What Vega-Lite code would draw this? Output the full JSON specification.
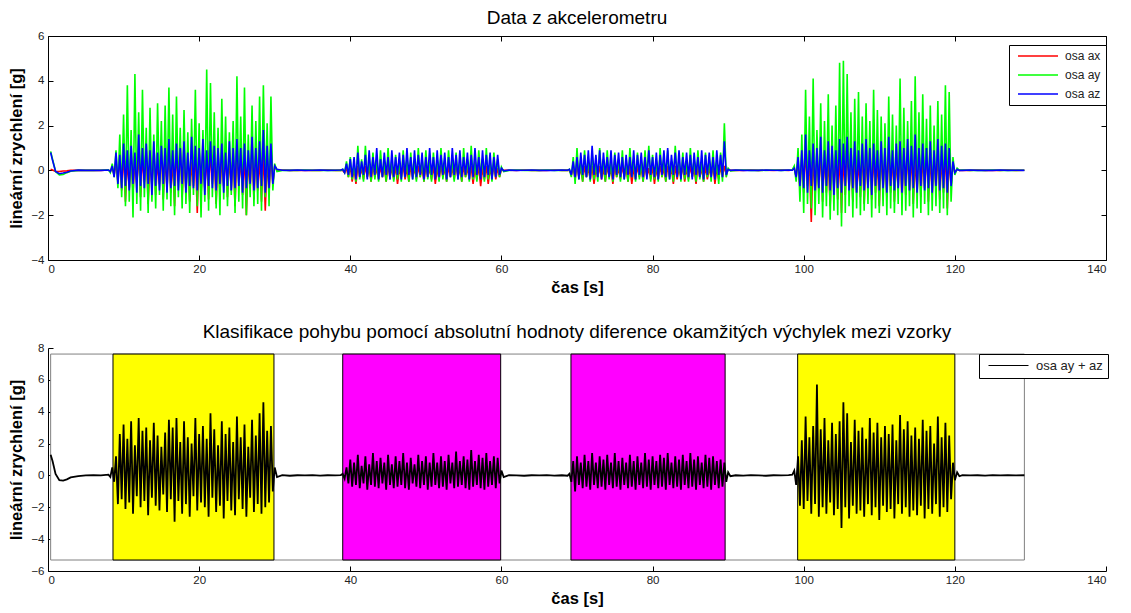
{
"$schema": "https://vega.github.io/schema/vega-lite/v6.json",
"background": "white",
"padding": {"left": 8, "top": 9, "right": 5, "bottom": 2},
"config": {
  "font": "Liberation Sans",
  "view": {"stroke": null},
  "axis": {"grid": false, "labelOverlap": false, "domainColor": "black", "domainWidth": 1, "tickColor": "black", "tickSize": -5, "labelFont": "Liberation Sans", "labelFontSize": 11.5, "labelColor": "#222", "titleFont": "Liberation Sans", "titleFontSize": 16.5, "titleFontWeight": "bold", "titleColor": "black"},
  "axisX": {"labelPadding": 8, "titlePadding": 5},
  "axisY": {"labelPadding": 9, "titlePadding": 6},
  "title": {"font": "Liberation Sans", "fontSize": 19, "fontWeight": "normal", "color": "black", "anchor": "middle"},
  "legend": {"labelFont": "Liberation Sans", "labelFontSize": 12, "labelColor": "#222", "strokeColor": "black", "fillColor": "white", "padding": 5, "symbolType": "M-4,0H4", "symbolSize": 100, "symbolStrokeWidth": 1.5, "symbolOffset": 18, "labelOffset": 21, "rowPadding": 7, "title": null},
  "concat": {"spacing": 27}
},
"datasets": {
"cls": [
 {"od": 8.6, "do": 29.9, "trida": "A"},
 {"od": 39.0, "do": 59.9, "trida": "B"},
 {"od": 69.2, "do": 89.6, "trida": "B"},
 {"od": 99.2, "do": 120.0, "trida": "A"}
],
"sig": [
{"t":0.35,"x":0.05,"y":0.85,"z":0.8,"s":1.3},
{"t":0.6,"x":0.02,"y":0.5,"z":0.45,"s":0.9},
{"t":1.0,"x":-0.05,"y":-0.05,"z":-0.05,"s":0.1},
{"t":1.5,"x":-0.05,"y":-0.2,"z":-0.15,"s":-0.3},
{"t":2.0,"x":-0.03,"y":-0.18,"z":-0.12,"s":-0.32},
{"t":2.5,"x":-0.02,"y":-0.1,"z":-0.08,"s":-0.25},
{"t":3.0,"x":0,"y":-0.04,"z":-0.03,"s":-0.12},
{"t":4.0,"x":0.01,"y":0,"z":0.01,"s":-0.04},
{"t":5.0,"x":0,"y":0.01,"z":0,"s":0},
{"t":6.0,"x":0.01,"y":0,"z":0.01,"s":0.01},
{"t":7.0,"x":0,"y":0.01,"z":0,"s":0},
{"t":8.0,"x":0.02,"y":0.03,"z":0.02,"s":0.05},
{"t":8.25,"x":-0.05,"y":-0.1,"z":-0.05,"s":-0.1},
{"t":8.5,"x":0.1,"y":0.3,"z":0.2,"s":0.5},
{"t":8.75,"x":-0.2,"y":-0.3,"z":-0.3,"s":-0.4},
{"t":9.0,"x":0.3,"y":0.9,"z":0.8,"s":1.2},
{"t":9.25,"x":-0.5,"y":-0.8,"z":-0.6,"s":-1.8},
{"t":9.5,"x":0.6,"y":1.6,"z":0.7,"s":2.6},
{"t":9.75,"x":-0.9,"y":-1.2,"z":-0.8,"s":-1.5},
{"t":10.0,"x":0.9,"y":2.5,"z":1.2,"s":3.2},
{"t":10.25,"x":-1.4,"y":-1.6,"z":-0.7,"s":-2.1},
{"t":10.5,"x":0.5,"y":3.8,"z":0.9,"s":2.3},
{"t":10.75,"x":-0.8,"y":-1.4,"z":-0.9,"s":-1.7},
{"t":11.0,"x":0.7,"y":1.8,"z":1.1,"s":3.4},
{"t":11.25,"x":-1.0,"y":-2.1,"z":-0.6,"s":-2.4},
{"t":11.5,"x":0.4,"y":4.3,"z":0.8,"s":1.9},
{"t":11.75,"x":-0.6,"y":-1.5,"z":-1.0,"s":-1.3},
{"t":12.0,"x":0.8,"y":2.6,"z":1.6,"s":3.6},
{"t":12.25,"x":-1.2,"y":-1.8,"z":-0.7,"s":-2.0},
{"t":12.5,"x":0.6,"y":3.6,"z":1.0,"s":2.8},
{"t":12.75,"x":-0.5,"y":-1.2,"z":-0.8,"s":-1.6},
{"t":13.0,"x":0.9,"y":1.9,"z":1.2,"s":3.0},
{"t":13.25,"x":-1.5,"y":-1.9,"z":-0.6,"s":-2.5},
{"t":13.5,"x":0.5,"y":2.8,"z":0.9,"s":2.2},
{"t":13.75,"x":-0.7,"y":-1.4,"z":-1.1,"s":-1.4},
{"t":14.0,"x":0.7,"y":1.6,"z":1.3,"s":3.3},
{"t":14.25,"x":-1.1,"y":-1.7,"z":-0.7,"s":-1.9},
{"t":14.5,"x":0.4,"y":3.0,"z":0.8,"s":2.5},
{"t":14.75,"x":-0.6,"y":-1.1,"z":-0.9,"s":-2.2},
{"t":15.0,"x":1.0,"y":2.2,"z":1.1,"s":1.8},
{"t":15.25,"x":-1.3,"y":-1.8,"z":-0.6,"s":-1.2},
{"t":15.5,"x":0.6,"y":2.9,"z":1.0,"s":2.7},
{"t":15.75,"x":-0.8,"y":-1.3,"z":-1.0,"s":-2.3},
{"t":16.0,"x":0.8,"y":3.7,"z":1.4,"s":3.5},
{"t":16.25,"x":-1.0,"y":-1.6,"z":-0.8,"s":-1.5},
{"t":16.5,"x":0.5,"y":2.5,"z":0.9,"s":3.0},
{"t":16.75,"x":-1.6,"y":-2.0,"z":-0.7,"s":-2.9},
{"t":17.0,"x":0.9,"y":3.3,"z":1.2,"s":3.6},
{"t":17.25,"x":-0.5,"y":-1.2,"z":-0.9,"s":-1.6},
{"t":17.5,"x":1.1,"y":1.9,"z":1.0,"s":2.1},
{"t":17.75,"x":-1.2,"y":-1.7,"z":-0.6,"s":-2.4},
{"t":18.0,"x":0.6,"y":2.7,"z":1.3,"s":3.4},
{"t":18.25,"x":-0.9,"y":-1.5,"z":-1.0,"s":-1.8},
{"t":18.5,"x":0.7,"y":1.7,"z":0.8,"s":2.4},
{"t":18.75,"x":-1.4,"y":-1.9,"z":-0.7,"s":-2.6},
{"t":19.0,"x":0.4,"y":2.3,"z":1.5,"s":2.0},
{"t":19.25,"x":-0.7,"y":-1.1,"z":-0.8,"s":-1.3},
{"t":19.5,"x":0.8,"y":3.6,"z":1.1,"s":3.6},
{"t":19.75,"x":-1.9,"y":-1.6,"z":-0.9,"s":-2.2},
{"t":20.0,"x":0.9,"y":2.1,"z":1.0,"s":2.6},
{"t":20.25,"x":-1.1,"y":-2.1,"z":-0.6,"s":-1.7},
{"t":20.5,"x":0.5,"y":1.8,"z":1.4,"s":3.1},
{"t":20.75,"x":-0.8,"y":-1.4,"z":-1.1,"s":-2.0},
{"t":21.0,"x":0.7,"y":4.5,"z":0.9,"s":2.3},
{"t":21.25,"x":-1.3,"y":-1.8,"z":-0.7,"s":-2.6},
{"t":21.5,"x":1.0,"y":3.9,"z":1.3,"s":3.9},
{"t":21.75,"x":-0.6,"y":-1.2,"z":-0.8,"s":-1.4},
{"t":22.0,"x":0.6,"y":2.6,"z":1.1,"s":2.9},
{"t":22.25,"x":-1.5,"y":-1.7,"z":-0.9,"s":-2.3},
{"t":22.5,"x":0.8,"y":1.9,"z":1.0,"s":1.9},
{"t":22.75,"x":-1.0,"y":-2.0,"z":-0.6,"s":-1.9},
{"t":23.0,"x":0.5,"y":3.2,"z":1.2,"s":3.4},
{"t":23.25,"x":-0.7,"y":-1.3,"z":-1.0,"s":-2.7},
{"t":23.5,"x":0.9,"y":2.4,"z":0.8,"s":2.6},
{"t":23.75,"x":-1.2,"y":-1.6,"z":-0.7,"s":-1.6},
{"t":24.0,"x":0.6,"y":1.7,"z":1.3,"s":3.0},
{"t":24.25,"x":-0.9,"y":-1.1,"z":-0.9,"s":-2.2},
{"t":24.5,"x":0.7,"y":2.2,"z":1.0,"s":2.1},
{"t":24.75,"x":-1.6,"y":-1.9,"z":-0.8,"s":-2.5},
{"t":25.0,"x":0.9,"y":4.2,"z":1.4,"s":3.7},
{"t":25.25,"x":-0.6,"y":-1.4,"z":-0.7,"s":-1.5},
{"t":25.5,"x":0.5,"y":2.4,"z":1.0,"s":2.4},
{"t":25.75,"x":-1.1,"y":-1.7,"z":-1.0,"s":-2.1},
{"t":26.0,"x":0.8,"y":3.7,"z":1.2,"s":3.2},
{"t":26.25,"x":-2.0,"y":-2.0,"z":-0.8,"s":-2.6},
{"t":26.5,"x":0.6,"y":1.6,"z":0.9,"s":1.8},
{"t":26.75,"x":-0.8,"y":-1.2,"z":-0.6,"s":-1.4},
{"t":27.0,"x":1.0,"y":2.9,"z":1.5,"s":3.5},
{"t":27.25,"x":-1.3,"y":-1.6,"z":-0.9,"s":-2.3},
{"t":27.5,"x":0.7,"y":2.2,"z":1.0,"s":2.5},
{"t":27.75,"x":-0.9,"y":-1.5,"z":-0.8,"s":-1.8},
{"t":28.0,"x":0.6,"y":3.3,"z":1.3,"s":3.9},
{"t":28.25,"x":-1.4,"y":-1.8,"z":-0.7,"s":-2.4},
{"t":28.5,"x":0.9,"y":3.8,"z":1.8,"s":4.6},
{"t":28.75,"x":-1.8,"y":-1.2,"z":-1.0,"s":-2.0},
{"t":29.0,"x":0.5,"y":2.1,"z":1.1,"s":2.8},
{"t":29.25,"x":-1.0,"y":-1.6,"z":-0.8,"s":-1.7},
{"t":29.5,"x":0.7,"y":3.3,"z":1.2,"s":3.1},
{"t":29.75,"x":-0.6,"y":-0.9,"z":-0.6,"s":-1.0},
{"t":30.0,"x":0.2,"y":0.3,"z":0.2,"s":0.5},
{"t":30.3,"x":0,"y":-0.05,"z":0.05,"s":-0.1},
{"t":31.0,"x":0.02,"y":0,"z":0.01,"s":0.02},
{"t":32.0,"x":0,"y":0.01,"z":0,"s":-0.02},
{"t":33.0,"x":0.01,"y":0,"z":0.02,"s":0.01},
{"t":34.0,"x":0,"y":0.02,"z":0,"s":0},
{"t":35.0,"x":0.01,"y":0,"z":0.01,"s":0.02},
{"t":36.0,"x":0,"y":0.01,"z":0.02,"s":-0.01},
{"t":37.0,"x":0.02,"y":0,"z":0,"s":0.01},
{"t":38.0,"x":0,"y":0.01,"z":0.01,"s":0},
{"t":38.75,"x":0.01,"y":0,"z":0.02,"s":0.02},
{"t":39.0,"x":0,"y":0.05,"z":0.05,"s":0.1},
{"t":39.25,"x":-0.1,"y":-0.1,"z":-0.1,"s":-0.2},
{"t":39.5,"x":0.1,"y":0.4,"z":0.3,"s":0.5},
{"t":39.75,"x":-0.3,"y":-0.3,"z":-0.2,"s":-0.5},
{"t":40.0,"x":0.2,"y":0.6,"z":0.5,"s":1.0},
{"t":40.25,"x":-0.5,"y":-0.4,"z":-0.3,"s":-0.7},
{"t":40.5,"x":0.1,"y":0.3,"z":0.6,"s":0.8},
{"t":40.75,"x":-0.6,"y":-0.5,"z":-0.4,"s":-0.6},
{"t":41.0,"x":0.2,"y":1.1,"z":0.8,"s":1.3},
{"t":41.25,"x":-0.3,"y":-0.4,"z":-0.3,"s":-0.8},
{"t":41.5,"x":0.1,"y":0.5,"z":0.4,"s":0.6},
{"t":41.75,"x":-0.4,"y":-0.5,"z":-0.2,"s":-0.5},
{"t":42.0,"x":0.2,"y":1.1,"z":0.7,"s":1.2},
{"t":42.25,"x":-0.3,"y":-0.3,"z":-0.4,"s":-0.9},
{"t":42.5,"x":0.1,"y":0.4,"z":0.9,"s":0.7},
{"t":42.75,"x":-0.5,"y":-0.5,"z":-0.3,"s":-0.6},
{"t":43.0,"x":0.2,"y":0.8,"z":0.6,"s":1.4},
{"t":43.25,"x":-0.3,"y":-0.4,"z":-0.2,"s":-0.7},
{"t":43.5,"x":0.1,"y":0.5,"z":1.0,"s":0.9},
{"t":43.75,"x":-0.4,"y":-0.5,"z":-0.4,"s":-0.8},
{"t":44.0,"x":0.2,"y":0.9,"z":0.5,"s":1.1},
{"t":44.25,"x":-0.3,"y":-0.3,"z":-0.3,"s":-0.5},
{"t":44.5,"x":0.1,"y":0.4,"z":0.8,"s":0.8},
{"t":44.75,"x":-0.5,"y":-0.5,"z":-0.2,"s":-0.9},
{"t":45.0,"x":0.2,"y":1.0,"z":0.6,"s":1.3},
{"t":45.25,"x":-0.3,"y":-0.4,"z":-0.4,"s":-0.6},
{"t":45.5,"x":0.1,"y":0.5,"z":0.9,"s":0.7},
{"t":45.75,"x":-0.4,"y":-0.5,"z":-0.3,"s":-0.8},
{"t":46.0,"x":0.2,"y":0.7,"z":0.6,"s":1.2},
{"t":46.25,"x":-0.6,"y":-0.4,"z":-0.2,"s":-0.7},
{"t":46.5,"x":0.1,"y":0.4,"z":0.8,"s":0.9},
{"t":46.75,"x":-0.3,"y":-0.5,"z":-0.4,"s":-0.6},
{"t":47.0,"x":0.2,"y":0.9,"z":0.7,"s":1.4},
{"t":47.25,"x":-0.4,"y":-0.3,"z":-0.3,"s":-0.8},
{"t":47.5,"x":0.1,"y":0.5,"z":1.0,"s":0.8},
{"t":47.75,"x":-0.5,"y":-0.5,"z":-0.2,"s":-0.9},
{"t":48.0,"x":0.2,"y":0.8,"z":0.6,"s":1.1},
{"t":48.25,"x":-0.3,"y":-0.4,"z":-0.4,"s":-0.5},
{"t":48.5,"x":0.1,"y":0.4,"z":0.9,"s":0.7},
{"t":48.75,"x":-0.4,"y":-0.5,"z":-0.3,"s":-0.7},
{"t":49.0,"x":0.2,"y":1.0,"z":0.7,"s":1.3},
{"t":49.25,"x":-0.3,"y":-0.3,"z":-0.2,"s":-0.8},
{"t":49.5,"x":0.1,"y":0.5,"z":0.8,"s":0.9},
{"t":49.75,"x":-0.5,"y":-0.5,"z":-0.4,"s":-0.6},
{"t":50.0,"x":0.2,"y":0.9,"z":0.6,"s":1.2},
{"t":50.25,"x":-0.3,"y":-0.4,"z":-0.3,"s":-0.9},
{"t":50.5,"x":0.1,"y":0.4,"z":1.0,"s":0.8},
{"t":50.75,"x":-0.4,"y":-0.5,"z":-0.2,"s":-0.7},
{"t":51.0,"x":0.2,"y":0.8,"z":0.6,"s":1.4},
{"t":51.25,"x":-0.6,"y":-0.3,"z":-0.4,"s":-0.6},
{"t":51.5,"x":0.1,"y":0.5,"z":0.9,"s":0.8},
{"t":51.75,"x":-0.4,"y":-0.5,"z":-0.3,"s":-0.8},
{"t":52.0,"x":0.2,"y":1.0,"z":0.7,"s":1.2},
{"t":52.25,"x":-0.3,"y":-0.4,"z":-0.2,"s":-0.7},
{"t":52.5,"x":0.1,"y":0.4,"z":0.8,"s":0.9},
{"t":52.75,"x":-0.5,"y":-0.5,"z":-0.4,"s":-0.9},
{"t":53.0,"x":0.2,"y":0.9,"z":0.6,"s":1.3},
{"t":53.25,"x":-0.3,"y":-0.3,"z":-0.3,"s":-0.5},
{"t":53.5,"x":0.1,"y":0.5,"z":1.0,"s":0.8},
{"t":53.75,"x":-0.4,"y":-0.5,"z":-0.2,"s":-0.8},
{"t":54.0,"x":0.2,"y":0.8,"z":0.7,"s":1.5},
{"t":54.25,"x":-0.3,"y":-0.4,"z":-0.4,"s":-0.7},
{"t":54.5,"x":0.1,"y":0.4,"z":0.9,"s":0.9},
{"t":54.75,"x":-0.5,"y":-0.5,"z":-0.3,"s":-0.6},
{"t":55.0,"x":0.2,"y":1.0,"z":0.6,"s":1.2},
{"t":55.25,"x":-0.3,"y":-0.3,"z":-0.2,"s":-0.8},
{"t":55.5,"x":0.1,"y":0.5,"z":0.8,"s":1.0},
{"t":55.75,"x":-0.4,"y":-0.5,"z":-0.4,"s":-0.9},
{"t":56.0,"x":0.2,"y":1.1,"z":0.7,"s":1.6},
{"t":56.25,"x":-0.6,"y":-0.4,"z":-0.3,"s":-0.7},
{"t":56.5,"x":0.1,"y":0.4,"z":1.0,"s":0.9},
{"t":56.75,"x":-0.4,"y":-0.5,"z":-0.2,"s":-0.6},
{"t":57.0,"x":0.2,"y":0.9,"z":0.6,"s":1.3},
{"t":57.25,"x":-0.7,"y":-0.3,"z":-0.4,"s":-0.8},
{"t":57.5,"x":0.1,"y":0.5,"z":0.9,"s":1.1},
{"t":57.75,"x":-0.4,"y":-0.5,"z":-0.3,"s":-0.9},
{"t":58.0,"x":0.2,"y":1.0,"z":0.7,"s":1.4},
{"t":58.25,"x":-0.6,"y":-0.4,"z":-0.2,"s":-0.7},
{"t":58.5,"x":0.1,"y":0.4,"z":0.8,"s":0.9},
{"t":58.75,"x":-0.3,"y":-0.5,"z":-0.4,"s":-0.6},
{"t":59.0,"x":0.2,"y":0.8,"z":0.6,"s":1.2},
{"t":59.25,"x":-0.4,"y":-0.3,"z":-0.3,"s":-0.8},
{"t":59.5,"x":0.1,"y":0.5,"z":0.7,"s":1.1},
{"t":59.75,"x":-0.3,"y":-0.3,"z":-0.2,"s":-0.5},
{"t":60.0,"x":0.05,"y":0.15,"z":0.1,"s":0.3},
{"t":60.3,"x":0,"y":-0.05,"z":-0.02,"s":-0.1},
{"t":61.0,"x":0.01,"y":0,"z":0.01,"s":0.02},
{"t":62.0,"x":0,"y":0.02,"z":0,"s":0},
{"t":63.0,"x":0.02,"y":0,"z":0.01,"s":-0.02},
{"t":64.0,"x":0,"y":0.01,"z":0.02,"s":0.01},
{"t":65.0,"x":0.01,"y":0,"z":0,"s":0},
{"t":66.0,"x":0,"y":0.02,"z":0.01,"s":0.02},
{"t":67.0,"x":0.02,"y":0,"z":0,"s":-0.01},
{"t":68.0,"x":0,"y":0.01,"z":0.02,"s":0.01},
{"t":68.75,"x":0.01,"y":0,"z":0.01,"s":-0.02},
{"t":69.0,"x":0,"y":0.05,"z":0.05,"s":0.1},
{"t":69.25,"x":-0.2,"y":-0.3,"z":-0.2,"s":-0.4},
{"t":69.5,"x":0.1,"y":0.6,"z":0.4,"s":0.9},
{"t":69.75,"x":-0.4,"y":-0.6,"z":-0.3,"s":-1.0},
{"t":70.0,"x":0.2,"y":1.0,"z":0.6,"s":1.2},
{"t":70.25,"x":-0.3,"y":-0.4,"z":-0.4,"s":-0.6},
{"t":70.5,"x":0.1,"y":0.4,"z":0.8,"s":0.8},
{"t":70.75,"x":-0.5,"y":-0.5,"z":-0.2,"s":-0.8},
{"t":71.0,"x":0.2,"y":0.9,"z":0.7,"s":1.3},
{"t":71.25,"x":-0.3,"y":-0.3,"z":-0.3,"s":-0.7},
{"t":71.5,"x":0.1,"y":0.5,"z":0.9,"s":0.9},
{"t":71.75,"x":-0.4,"y":-0.5,"z":-0.4,"s":-0.9},
{"t":72.0,"x":0.2,"y":0.8,"z":1.1,"s":1.4},
{"t":72.25,"x":-0.6,"y":-0.4,"z":-0.2,"s":-0.6},
{"t":72.5,"x":0.1,"y":0.4,"z":0.7,"s":0.8},
{"t":72.75,"x":-0.3,"y":-0.5,"z":-0.3,"s":-0.8},
{"t":73.0,"x":0.2,"y":1.0,"z":0.9,"s":1.2},
{"t":73.25,"x":-0.4,"y":-0.3,"z":-0.4,"s":-0.7},
{"t":73.5,"x":0.1,"y":0.5,"z":0.8,"s":1.0},
{"t":73.75,"x":-0.5,"y":-0.5,"z":-0.2,"s":-0.9},
{"t":74.0,"x":0.2,"y":0.9,"z":0.6,"s":1.3},
{"t":74.25,"x":-0.3,"y":-0.4,"z":-0.3,"s":-0.6},
{"t":74.5,"x":0.1,"y":0.4,"z":0.9,"s":0.8},
{"t":74.75,"x":-0.6,"y":-0.5,"z":-0.4,"s":-0.8},
{"t":75.0,"x":0.2,"y":0.8,"z":0.7,"s":1.4},
{"t":75.25,"x":-0.3,"y":-0.3,"z":-0.2,"s":-0.7},
{"t":75.5,"x":0.1,"y":0.5,"z":0.8,"s":0.9},
{"t":75.75,"x":-0.4,"y":-0.5,"z":-0.3,"s":-0.9},
{"t":76.0,"x":0.2,"y":0.9,"z":0.6,"s":1.1},
{"t":76.25,"x":-0.3,"y":-0.4,"z":-0.4,"s":-0.6},
{"t":76.5,"x":0.1,"y":0.4,"z":0.7,"s":0.8},
{"t":76.75,"x":-0.5,"y":-0.5,"z":-0.2,"s":-0.8},
{"t":77.0,"x":0.2,"y":1.0,"z":0.6,"s":1.3},
{"t":77.25,"x":-0.6,"y":-0.3,"z":-0.3,"s":-0.7},
{"t":77.5,"x":0.1,"y":0.5,"z":0.9,"s":0.9},
{"t":77.75,"x":-0.4,"y":-0.5,"z":-0.4,"s":-0.9},
{"t":78.0,"x":0.2,"y":0.8,"z":0.7,"s":1.2},
{"t":78.25,"x":-0.3,"y":-0.4,"z":-0.2,"s":-0.6},
{"t":78.5,"x":0.1,"y":0.4,"z":0.8,"s":0.8},
{"t":78.75,"x":-0.5,"y":-0.5,"z":-0.3,"s":-0.8},
{"t":79.0,"x":0.2,"y":0.9,"z":0.6,"s":1.4},
{"t":79.25,"x":-0.3,"y":-0.3,"z":-0.4,"s":-0.7},
{"t":79.5,"x":0.1,"y":1.1,"z":0.9,"s":1.0},
{"t":79.75,"x":-0.4,"y":-0.5,"z":-0.2,"s":-0.9},
{"t":80.0,"x":0.2,"y":0.7,"z":0.6,"s":1.2},
{"t":80.25,"x":-0.6,"y":-0.4,"z":-0.3,"s":-0.6},
{"t":80.5,"x":0.1,"y":0.4,"z":0.8,"s":0.9},
{"t":80.75,"x":-0.4,"y":-0.5,"z":-0.4,"s":-0.8},
{"t":81.0,"x":0.2,"y":1.0,"z":0.7,"s":1.3},
{"t":81.25,"x":-0.3,"y":-0.3,"z":-0.2,"s":-0.7},
{"t":81.5,"x":0.1,"y":0.5,"z":0.9,"s":1.1},
{"t":81.75,"x":-0.5,"y":-0.5,"z":-0.3,"s":-0.9},
{"t":82.0,"x":0.2,"y":0.9,"z":1.0,"s":1.4},
{"t":82.25,"x":-0.3,"y":-0.4,"z":-0.4,"s":-0.6},
{"t":82.5,"x":0.1,"y":0.4,"z":0.7,"s":0.8},
{"t":82.75,"x":-0.6,"y":-0.5,"z":-0.2,"s":-0.8},
{"t":83.0,"x":0.2,"y":1.1,"z":0.8,"s":1.2},
{"t":83.25,"x":-0.4,"y":-0.3,"z":-0.3,"s":-0.7},
{"t":83.5,"x":0.1,"y":0.5,"z":0.9,"s":1.0},
{"t":83.75,"x":-0.3,"y":-0.5,"z":-0.4,"s":-0.9},
{"t":84.0,"x":0.2,"y":0.8,"z":0.6,"s":1.3},
{"t":84.25,"x":-0.5,"y":-0.4,"z":-0.2,"s":-0.6},
{"t":84.5,"x":0.1,"y":0.4,"z":0.8,"s":0.9},
{"t":84.75,"x":-0.4,"y":-0.5,"z":-0.3,"s":-0.8},
{"t":85.0,"x":0.2,"y":1.0,"z":0.7,"s":1.4},
{"t":85.25,"x":-0.3,"y":-0.3,"z":-0.4,"s":-0.7},
{"t":85.5,"x":0.1,"y":0.5,"z":0.8,"s":1.0},
{"t":85.75,"x":-0.6,"y":-0.5,"z":-0.2,"s":-0.9},
{"t":86.0,"x":0.2,"y":0.9,"z":0.6,"s":1.2},
{"t":86.25,"x":-0.3,"y":-0.4,"z":-0.3,"s":-0.6},
{"t":86.5,"x":0.1,"y":0.4,"z":0.9,"s":0.8},
{"t":86.75,"x":-0.5,"y":-0.5,"z":-0.4,"s":-0.8},
{"t":87.0,"x":0.2,"y":0.8,"z":0.7,"s":1.3},
{"t":87.25,"x":-0.4,"y":-0.3,"z":-0.2,"s":-0.7},
{"t":87.5,"x":0.1,"y":0.5,"z":0.8,"s":1.1},
{"t":87.75,"x":-0.3,"y":-0.5,"z":-0.3,"s":-0.9},
{"t":88.0,"x":0.2,"y":0.9,"z":0.6,"s":1.2},
{"t":88.25,"x":-0.6,"y":-0.4,"z":-0.4,"s":-0.6},
{"t":88.5,"x":0.1,"y":0.4,"z":0.9,"s":0.9},
{"t":88.75,"x":-0.4,"y":-0.6,"z":-0.2,"s":-0.8},
{"t":89.0,"x":0.2,"y":0.8,"z":0.7,"s":1.0},
{"t":89.25,"x":-0.3,"y":-0.5,"z":-0.3,"s":-0.7},
{"t":89.5,"x":0.2,"y":2.1,"z":1.3,"s":0.8},
{"t":89.75,"x":-0.2,"y":-0.3,"z":-0.2,"s":-0.4},
{"t":90.0,"x":0.05,"y":0.1,"z":0.05,"s":0.2},
{"t":90.3,"x":0,"y":-0.02,"z":0,"s":-0.05},
{"t":91.0,"x":0.01,"y":0,"z":0.02,"s":0.01},
{"t":92.0,"x":0,"y":0.02,"z":0,"s":-0.01},
{"t":93.0,"x":0.02,"y":0,"z":0.01,"s":0.02},
{"t":94.0,"x":0,"y":0.01,"z":0,"s":0},
{"t":95.0,"x":0.01,"y":0,"z":0.02,"s":-0.02},
{"t":96.0,"x":0,"y":0.02,"z":0.01,"s":0.01},
{"t":97.0,"x":0.02,"y":0,"z":0,"s":0},
{"t":98.0,"x":0,"y":0.01,"z":0.02,"s":0.02},
{"t":98.5,"x":0.02,"y":0.03,"z":0.01,"s":0.05},
{"t":98.75,"x":0.1,"y":0.2,"z":0.1,"s":0.3},
{"t":99.0,"x":-0.3,"y":-0.5,"z":-0.3,"s":-0.6},
{"t":99.25,"x":0.4,"y":1.0,"z":0.6,"s":1.2},
{"t":99.5,"x":-0.8,"y":-1.4,"z":-0.7,"s":-1.9},
{"t":99.75,"x":0.6,"y":1.6,"z":0.9,"s":2.2},
{"t":100.0,"x":-1.0,"y":-1.9,"z":-0.8,"s":-2.1},
{"t":100.25,"x":0.9,"y":3.6,"z":1.6,"s":3.7},
{"t":100.5,"x":-0.7,"y":-1.5,"z":-1.0,"s":-1.6},
{"t":100.75,"x":0.5,"y":2.4,"z":0.9,"s":2.4},
{"t":101.0,"x":-2.3,"y":-1.7,"z":-0.7,"s":-2.4},
{"t":101.25,"x":0.8,"y":4.1,"z":1.2,"s":3.1},
{"t":101.5,"x":-1.2,"y":-2.0,"z":-0.9,"s":-1.8},
{"t":101.75,"x":0.6,"y":1.8,"z":1.0,"s":5.7},
{"t":102.0,"x":-0.9,"y":-1.5,"z":-0.8,"s":-2.6},
{"t":102.25,"x":1.0,"y":3.0,"z":1.5,"s":2.9},
{"t":102.5,"x":-1.4,"y":-2.1,"z":-1.0,"s":-2.0},
{"t":102.75,"x":0.7,"y":2.2,"z":0.9,"s":3.6},
{"t":103.0,"x":-1.0,"y":-1.6,"z":-0.7,"s":-2.4},
{"t":103.25,"x":0.5,"y":3.4,"z":1.3,"s":2.2},
{"t":103.5,"x":-1.6,"y":-2.2,"z":-0.9,"s":-1.7},
{"t":103.75,"x":0.9,"y":2.0,"z":1.1,"s":3.3},
{"t":104.0,"x":-0.8,"y":-1.8,"z":-1.1,"s":-2.5},
{"t":104.25,"x":0.6,"y":2.9,"z":0.9,"s":2.6},
{"t":104.5,"x":-1.3,"y":-2.0,"z":-0.8,"s":-2.1},
{"t":104.75,"x":0.8,"y":4.8,"z":1.4,"s":3.4},
{"t":105.0,"x":-1.9,"y":-2.5,"z":-1.0,"s":-3.3},
{"t":105.25,"x":0.7,"y":4.9,"z":1.2,"s":4.6},
{"t":105.5,"x":-1.1,"y":-1.9,"z":-0.7,"s":-2.0},
{"t":105.75,"x":1.0,"y":4.3,"z":1.5,"s":3.9},
{"t":106.0,"x":-0.9,"y":-1.6,"z":-0.9,"s":-2.7},
{"t":106.25,"x":0.6,"y":2.6,"z":1.0,"s":2.1},
{"t":106.5,"x":-1.4,"y":-2.1,"z":-0.8,"s":-1.9},
{"t":106.75,"x":0.8,"y":3.2,"z":1.3,"s":3.5},
{"t":107.0,"x":-1.0,"y":-1.7,"z":-1.0,"s":-2.4},
{"t":107.25,"x":0.5,"y":3.5,"z":0.9,"s":2.8},
{"t":107.5,"x":-1.2,"y":-2.0,"z":-0.7,"s":-2.2},
{"t":107.75,"x":0.9,"y":2.4,"z":1.2,"s":3.0},
{"t":108.0,"x":-1.5,"y":-1.8,"z":-0.9,"s":-2.6},
{"t":108.25,"x":0.6,"y":3.0,"z":1.4,"s":2.3},
{"t":108.5,"x":-0.8,"y":-1.5,"z":-0.8,"s":-1.8},
{"t":108.75,"x":1.0,"y":2.2,"z":1.0,"s":3.6},
{"t":109.0,"x":-1.3,"y":-2.1,"z":-1.1,"s":-2.5},
{"t":109.25,"x":0.7,"y":3.6,"z":1.2,"s":2.7},
{"t":109.5,"x":-1.0,"y":-1.7,"z":-0.7,"s":-2.0},
{"t":109.75,"x":0.5,"y":2.7,"z":0.9,"s":3.3},
{"t":110.0,"x":-1.6,"y":-1.9,"z":-0.9,"s":-2.8},
{"t":110.25,"x":0.8,"y":2.4,"z":1.3,"s":2.4},
{"t":110.5,"x":-0.9,"y":-1.6,"z":-0.8,"s":-1.9},
{"t":110.75,"x":0.6,"y":2.1,"z":1.0,"s":3.1},
{"t":111.0,"x":-1.2,"y":-2.0,"z":-1.0,"s":-2.3},
{"t":111.25,"x":0.9,"y":3.3,"z":1.5,"s":2.6},
{"t":111.5,"x":-1.0,"y":-1.7,"z":-0.7,"s":-2.1},
{"t":111.75,"x":0.7,"y":2.5,"z":0.9,"s":3.2},
{"t":112.0,"x":-1.4,"y":-1.9,"z":-0.9,"s":-2.7},
{"t":112.25,"x":0.5,"y":2.0,"z":1.2,"s":2.2},
{"t":112.5,"x":-0.8,"y":-1.5,"z":-0.8,"s":-1.8},
{"t":112.75,"x":1.0,"y":4.1,"z":1.3,"s":3.8},
{"t":113.0,"x":-1.3,"y":-2.0,"z":-1.0,"s":-2.4},
{"t":113.25,"x":0.6,"y":2.8,"z":1.0,"s":2.9},
{"t":113.5,"x":-1.1,"y":-1.8,"z":-0.7,"s":-2.0},
{"t":113.75,"x":0.8,"y":2.2,"z":1.4,"s":3.4},
{"t":114.0,"x":-0.9,"y":-1.6,"z":-0.9,"s":-2.6},
{"t":114.25,"x":0.7,"y":3.1,"z":1.1,"s":2.5},
{"t":114.5,"x":-1.5,"y":-2.1,"z":-0.8,"s":-2.2},
{"t":114.75,"x":0.5,"y":4.2,"z":1.6,"s":3.0},
{"t":115.0,"x":-1.0,"y":-1.7,"z":-1.0,"s":-2.5},
{"t":115.25,"x":0.9,"y":2.6,"z":1.0,"s":2.3},
{"t":115.5,"x":-1.2,"y":-1.9,"z":-0.7,"s":-1.9},
{"t":115.75,"x":0.6,"y":3.4,"z":1.2,"s":3.5},
{"t":116.0,"x":-0.8,"y":-1.5,"z":-0.9,"s":-2.7},
{"t":116.25,"x":1.0,"y":2.3,"z":1.0,"s":2.8},
{"t":116.5,"x":-1.4,"y":-2.0,"z":-0.8,"s":-2.1},
{"t":116.75,"x":0.7,"y":2.9,"z":1.3,"s":3.1},
{"t":117.0,"x":-1.1,"y":-1.8,"z":-1.0,"s":-2.4},
{"t":117.25,"x":0.5,"y":2.0,"z":0.9,"s":2.0},
{"t":117.5,"x":-0.9,"y":-1.6,"z":-0.7,"s":-1.8},
{"t":117.75,"x":0.8,"y":3.1,"z":1.4,"s":3.7},
{"t":118.0,"x":-1.3,"y":-1.9,"z":-0.9,"s":-2.6},
{"t":118.25,"x":0.6,"y":2.5,"z":1.1,"s":2.4},
{"t":118.5,"x":-1.0,"y":-1.7,"z":-0.8,"s":-2.0},
{"t":118.75,"x":0.9,"y":3.8,"z":1.2,"s":3.3},
{"t":119.0,"x":-1.7,"y":-2.0,"z":-1.0,"s":-2.3},
{"t":119.25,"x":0.6,"y":3.5,"z":1.0,"s":2.5},
{"t":119.5,"x":-0.7,"y":-1.4,"z":-0.7,"s":-1.5},
{"t":119.75,"x":0.3,"y":0.6,"z":0.4,"s":0.8},
{"t":120.0,"x":-0.1,"y":-0.2,"z":-0.1,"s":-0.3},
{"t":120.3,"x":0.05,"y":0.1,"z":0.05,"s":0.2},
{"t":120.6,"x":0,"y":0,"z":0,"s":-0.05},
{"t":121.0,"x":0.01,"y":0.02,"z":0,"s":0.02},
{"t":122.0,"x":0,"y":0,"z":0.02,"s":0},
{"t":123.0,"x":0.02,"y":0.01,"z":0,"s":0.01},
{"t":124.0,"x":0,"y":0,"z":0.01,"s":-0.01},
{"t":125.0,"x":0.01,"y":0.02,"z":0,"s":0.02},
{"t":126.0,"x":0,"y":0,"z":0.02,"s":0},
{"t":127.0,"x":0.02,"y":0.01,"z":0,"s":0.01},
{"t":128.0,"x":0,"y":0,"z":0.01,"s":0},
{"t":129.2,"x":0.01,"y":0.01,"z":0,"s":0.01}
]
},
"resolve": {"scale": {"color": "independent", "stroke": "independent", "fill": "independent"}, "legend": {"color": "independent", "stroke": "independent", "fill": "independent"}},
"vconcat": [
{
  "width": 1058, "height": 224,
  "title": {"text": "Data z akcelerometru", "offset": 2},
  "layer": [
    {
      "data": {"name": "sig"},
      "transform": [{"fold": ["x", "y", "z"], "as": ["k", "v"]}],
      "mark": {"type": "line", "strokeWidth": 1.6, "clip": true},
      "encoding": {
        "x": {"field": "t", "type": "quantitative", "scale": {"domain": [0, 140], "nice": false}, "axis": {"title": "čas [s]", "values": [0, 20, 40, 60, 80, 100, 120, 140]}},
        "y": {"field": "v", "type": "quantitative", "scale": {"domain": [-4, 6], "nice": false}, "axis": {"title": "lineární zrychlení [g]", "values": [-4, -2, 0, 2, 4, 6]}},
        "color": {"field": "k", "type": "nominal", "scale": {"domain": ["x", "y", "z"], "range": ["#ff0000", "#00ff00", "#0000ff"]}, "legend": {"orient": "none", "legendX": 961, "legendY": 9, "labelExpr": "'osa a' + datum.label"}}
      }
    },
    {
      "data": {"values": [{"t": 0, "v": 0}]},
      "mark": {"type": "point", "opacity": 0},
      "encoding": {
        "x": {"field": "t", "type": "quantitative", "axis": {"orient": "top", "labels": false, "title": null, "values": [0, 20, 40, 60, 80, 100, 120, 140]}},
        "y": {"field": "v", "type": "quantitative", "axis": {"orient": "right", "labels": false, "title": null, "values": [-4, -2, 0, 2, 4, 6]}}
      }
    }
  ],
  "resolve": {"axis": {"x": "independent", "y": "independent"}}
},
{
  "width": 1058, "height": 223,
  "title": {"text": "Klasifikace pohybu pomocí absolutní hodnoty diference okamžitých výchylek mezi vzorky", "offset": 0},
  "layer": [
    {
      "data": {"name": "sig"},
      "transform": [{"aggregate": [{"op": "min", "field": "t", "as": "a"}, {"op": "max", "field": "t", "as": "b"}]}],
      "mark": {"type": "rect", "fill": "white", "stroke": "#808080", "strokeWidth": 1},
      "encoding": {
        "x": {"field": "a", "type": "quantitative", "scale": {"domain": [0, 140], "nice": false}, "axis": {"title": "čas [s]", "values": [0, 20, 40, 60, 80, 100, 120, 140]}},
        "x2": {"field": "b"},
        "y": {"datum": -5.31, "type": "quantitative", "scale": {"domain": [-6, 8], "nice": false}, "axis": {"title": "lineární zrychlení [g]", "values": [-6, -4, -2, 0, 2, 4, 6, 8], "labelOverlap": false, "tickCount": 8}},
        "y2": {"datum": 7.62}
      }
    },
    {
      "data": {"name": "cls"},
      "mark": {"type": "rect", "stroke": "black", "strokeWidth": 1},
      "encoding": {
        "x": {"field": "od", "type": "quantitative"},
        "x2": {"field": "do"},
        "y": {"datum": -5.31, "type": "quantitative", "axis": {"title": "lineární zrychlení [g]", "values": [-6, -4, -2, 0, 2, 4, 6, 8], "labelOverlap": false, "tickCount": 8}},
        "y2": {"datum": 7.62},
        "fill": {"field": "trida", "type": "nominal", "scale": {"domain": ["A", "B"], "range": ["#ffff00", "#ff00ff"]}, "legend": null}
      }
    },
    {
      "data": {"name": "sig"},
      "mark": {"type": "line", "strokeWidth": 1.8},
      "encoding": {
        "x": {"field": "t", "type": "quantitative"},
        "y": {"field": "s", "type": "quantitative", "axis": {"title": "lineární zrychlení [g]", "values": [-6, -4, -2, 0, 2, 4, 6, 8], "labelOverlap": false, "tickCount": 8}},
        "stroke": {"datum": "osa ay + az", "type": "nominal", "scale": {"range": ["black"]}, "legend": {"orient": "none", "legendX": 931, "legendY": 6, "symbolStrokeWidth": 1, "labelFontSize": 13}}
      }
    }
  ]
}
]
}
